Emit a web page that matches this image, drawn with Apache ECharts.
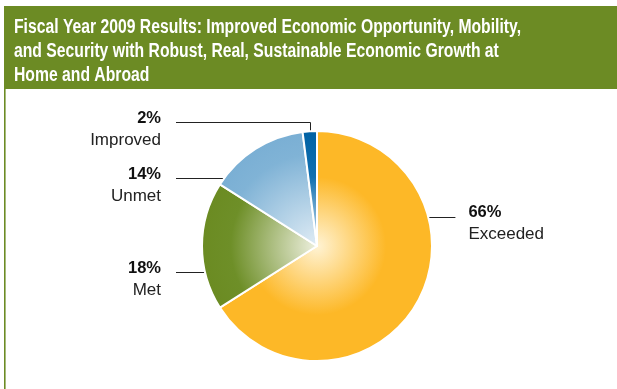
<!DOCTYPE html>
<html>
<head>
<meta charset="utf-8">
<script src="https://cdn.jsdelivr.net/npm/echarts@6/dist/echarts.min.js"></script>
<style>html,body{margin:0;padding:0;background:#fff;}#c{width:617px;height:389px;}</style>
</head>
<body>
<div id="c"></div>
<script>
// Data (clockwise from 12 o'clock)
const categories = ['Exceeded', 'Met', 'Unmet', 'Improved'];
const values = [66, 18, 14, 2];
const titleLines = [
  'Fiscal Year 2009 Results: Improved Economic Opportunity, Mobility,',
  'and Security with Robust, Real, Sustainable Economic Growth at',
  'Home and Abroad'
];

// Styling
const CX = 317, CY = 246, R = 115;
const GREEN = '#6c8b24';
const stops = [
  [[0, '#fff3d4'], [0.6, '#fdb827'], [1, '#fdb827']],
  [[0, '#eef0df'], [0.75, '#6e8f28'], [1, '#6b8b22']],
  [[0, '#e0ecf5'], [0.8, '#80b3d6'], [1, '#7aafd4']],
  [[0, '#d2e3f0'], [0.6, '#1170b0'], [1, '#0062a4']]
];
const colors = stops.map(s => ({
  type: 'radial', x: CX, y: CY, r: R, global: true,
  colorStops: s.map(([o, c]) => ({offset: o, color: c}))
}));
const labelCfg = [
  {side: 'right', lineY: 217},
  {side: 'left', lineY: 272},
  {side: 'left', lineY: 178},
  {side: 'left', lineY: 122, elbow: true}
];
const LEFT_TEXT_X = 161, LEFT_LINE_END = 176;
const RIGHT_LINE_LEN = 27, RIGHT_TEXT_GAP = 13;
const FONT = "'Liberation Sans', Arial, sans-serif";

// title font fitting (condensed look)
const TITLE_FONT = "bold 20px 'Liberation Sans', Arial, sans-serif";
const ctx = document.createElement('canvas').getContext('2d');
ctx.font = TITLE_FONT;
const titleScale = 507 / ctx.measureText(titleLines[0]).width;

const chart = echarts.init(document.getElementById('c'));
chart.setOption({
  animation: false,
  graphic: [
    {type: 'rect', z: -1, shape: {x: 4, y: 6, width: 620, height: 83}, style: {fill: GREEN}},
    {type: 'rect', z: -1, shape: {x: 4, y: 88, width: 1.6, height: 310}, style: {fill: GREEN}},
    {type: 'text', x: 14, y: 15, scaleX: titleScale, z: 10,
      style: {text: titleLines.join('\n'), fill: '#fff', font: TITLE_FONT, lineHeight: 24,
        verticalAlign: 'top', align: 'left'}}
  ],
  series: [{
    type: 'pie',
    center: [CX, CY],
    radius: R,
    startAngle: 90,
    clockwise: true,
    data: categories.map((c, i) => ({name: c, value: values[i], itemStyle: {color: colors[i]}})),
    itemStyle: {borderColor: '#fff', borderWidth: 2},
    emphasis: {disabled: true},
    label: {
      show: true,
      formatter: p => '{p|' + p.value + '%}\n{n|' + p.name + '}',
      rich: {
        p: {fontSize: 16.5, fontWeight: 'bold', color: '#111', lineHeight: 22, fontFamily: FONT},
        n: {fontSize: 17, color: '#222', lineHeight: 22, fontFamily: FONT}
      }
    },
    labelLine: {show: true, lineStyle: {color: '#222', width: 1}},
    labelLayout: function (params) {
      const cfg = labelCfg[params.dataIndex];
      const y = cfg.lineY + 0.5;
      if (cfg.side === 'right') {
        const ex = CX + Math.sqrt(R * R - (y - CY) * (y - CY));
        return {
          x: ex + RIGHT_LINE_LEN + RIGHT_TEXT_GAP, y: cfg.lineY + 6,
          align: 'left', verticalAlign: 'middle',
          labelLinePoints: [[ex, y], [ex, y], [ex + RIGHT_LINE_LEN, y]]
        };
      }
      let pts;
      if (cfg.elbow) {
        const a = (90 + values[3] * 3.6 / 2) * Math.PI / 180;
        const ex = Math.round(CX + R * Math.cos(a)) + 0.5, ey = CY - R * Math.sin(a);
        pts = [[ex, ey + 2], [ex, y], [LEFT_LINE_END, y]];
      } else {
        const ex = CX - Math.sqrt(R * R - (y - CY) * (y - CY));
        pts = [[ex, y], [ex, y], [LEFT_LINE_END, y]];
      }
      return {
        x: LEFT_TEXT_X, y: cfg.lineY + 7,
        align: 'right', verticalAlign: 'middle',
        labelLinePoints: pts
      };
    }
  }]
});
</script>
</body>
</html>
